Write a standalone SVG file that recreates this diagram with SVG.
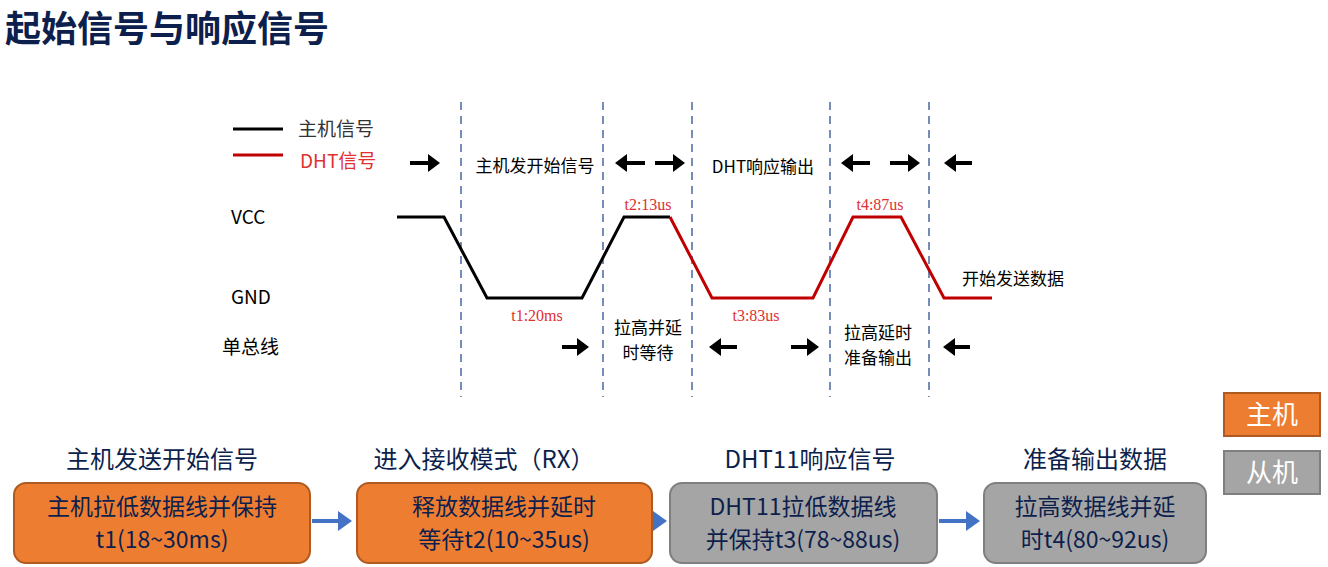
<svg xmlns="http://www.w3.org/2000/svg" width="1328" height="567" viewBox="0 0 1328 567">
<defs>
<marker id="ah" markerWidth="4" markerHeight="4.5" refX="1" refY="2.25" orient="auto" markerUnits="strokeWidth"><path d="M0,0 L3,2.25 L0,4.5 z" fill="#000"/></marker>
<marker id="bh" markerWidth="4" markerHeight="5" refX="1" refY="2.5" orient="auto" markerUnits="strokeWidth"><path d="M0,0 L3.5,2.5 L0,5 z" fill="#4472C4"/></marker>
</defs>
<style>
text{font-family:"Noto Sans CJK SC","Liberation Sans",sans-serif}
.s{font-size:17px;fill:#000}
.r{font-family:"Liberation Serif","Noto Sans CJK SC",serif;font-size:16px;fill:#e03030}
.d{stroke:#2F4F8F;stroke-width:1.3;stroke-dasharray:8,6}
.ar{stroke:#000;stroke-width:4;marker-end:url(#ah)}
.box{stroke-width:2}
.bt{font-size:23px;fill:#0d1f4d;text-anchor:middle}
.tt{font-size:24px;fill:#0d1f4d;text-anchor:middle}
</style>
<rect width="1328" height="567" fill="#fff"/>
<text x="5" y="42" font-size="36" font-weight="bold" fill="#0d1f4d">起始信号与响应信号</text>
<g id="legend">
<line x1="233" y1="129" x2="283" y2="129" stroke="#000" stroke-width="3"/>
<text x="298" y="136" font-size="19" fill="#333" font-family="Noto Sans CJK SC,sans-serif">主机信号</text>
<line x1="233" y1="155" x2="283" y2="155" stroke="#c00000" stroke-width="3"/>
<text x="300" y="168" font-size="19" fill="#e03030" font-family="Liberation Serif,Noto Sans CJK SC,serif">DHT信号</text>
</g>
<g id="axis">
<text x="231" y="224" font-size="19" fill="#000" font-family="Liberation Sans,sans-serif">VCC</text>
<text x="231" y="304" font-size="19" fill="#000" font-family="Liberation Sans,sans-serif">GND</text>
<text x="222" y="354" font-size="19" fill="#000">单总线</text>
</g>
<g id="dashes">
<line class="d" x1="461" y1="102" x2="461" y2="397"/>
<line class="d" x1="603" y1="102" x2="603" y2="397"/>
<line class="d" x1="692" y1="102" x2="692" y2="397"/>
<line class="d" x1="830" y1="102" x2="830" y2="397"/>
<line class="d" x1="929" y1="102" x2="929" y2="397"/>
</g>
<g id="wave">
<polyline points="397,217 444,217 487,298 582,298 624,217 670,217" fill="none" stroke="#000" stroke-width="3"/>
<polyline points="670,217 712,298 813,298 853,217 901,217 944,298 992,298" fill="none" stroke="#c00000" stroke-width="3"/>
</g>
<g id="connectors">
<line class="ar" x1="410" y1="163" x2="432" y2="163"/>
<line class="ar" x1="645" y1="163" x2="623" y2="163"/>
<line class="ar" x1="655" y1="163" x2="677" y2="163"/>
<line class="ar" x1="870" y1="163" x2="849" y2="163"/>
<line class="ar" x1="890" y1="163" x2="912" y2="163"/>
<line class="ar" x1="972" y1="163" x2="952" y2="163"/>
<line class="ar" x1="562" y1="347" x2="581" y2="347"/>
<line class="ar" x1="737" y1="347" x2="717" y2="347"/>
<line class="ar" x1="791" y1="347" x2="811" y2="347"/>
<line class="ar" x1="970" y1="347" x2="951" y2="347"/>
<line x1="312" y1="521" x2="342" y2="521" stroke="#4472C4" stroke-width="4" marker-end="url(#bh)"/>
<line x1="653" y1="521" x2="657" y2="521" stroke="#4472C4" stroke-width="4" marker-end="url(#bh)"/>
<line x1="939" y1="521" x2="970" y2="521" stroke="#4472C4" stroke-width="4" marker-end="url(#bh)"/>
</g>
<g id="labels">
<text class="s" x="535" y="172" text-anchor="middle">主机发开始信号</text>
<text class="s" x="763" y="173" text-anchor="middle">DHT响应输出</text>
<text class="r" x="537" y="321" text-anchor="middle">t1:20ms</text>
<text class="r" x="648" y="210" text-anchor="middle">t2:13us</text>
<text class="r" x="756" y="321" text-anchor="middle">t3:83us</text>
<text class="r" x="880" y="210" text-anchor="middle">t4:87us</text>
<text class="s" x="648" y="334" text-anchor="middle">拉高并延</text>
<text class="s" x="648" y="359" text-anchor="middle">时等待</text>
<text class="s" x="878" y="339" text-anchor="middle">拉高延时</text>
<text class="s" x="878" y="364" text-anchor="middle">准备输出</text>
<text class="s" x="962" y="285">开始发送数据</text>
</g>
<g id="step1">
<text class="tt" x="162" y="468">主机发送开始信号</text>
<rect class="box" x="14" y="483" width="296" height="80" rx="12" fill="#ED7D31" stroke="#AE5A21"/>
<text class="bt" x="162" y="515">主机拉低数据线并保持</text>
<text class="bt" x="162" y="548">t1(18~30ms)</text>
</g>
<g id="step2">
<text class="tt" x="484" y="468">进入接收模式（RX）</text>
<rect class="box" x="357" y="483" width="295" height="80" rx="12" fill="#ED7D31" stroke="#AE5A21"/>
<text class="bt" x="504" y="515">释放数据线并延时</text>
<text class="bt" x="504" y="548">等待t2(10~35us)</text>
</g>
<g id="step3">
<text class="tt" x="810" y="468">DHT11响应信号</text>
<rect class="box" x="670" y="483" width="267" height="80" rx="12" fill="#A5A5A5" stroke="#7f7f7f"/>
<text class="bt" x="803" y="515">DHT11拉低数据线</text>
<text class="bt" x="803" y="548">并保持t3(78~88us)</text>
</g>
<g id="step4">
<text class="tt" x="1095" y="468">准备输出数据</text>
<rect class="box" x="984" y="483" width="222" height="80" rx="12" fill="#A5A5A5" stroke="#7f7f7f"/>
<text class="bt" x="1095" y="515">拉高数据线并延</text>
<text class="bt" x="1095" y="548">时t4(80~92us)</text>
</g>
<g id="key">
<rect x="1224" y="393" width="96" height="43" fill="#ED7D31" stroke="#AE5A21" stroke-width="2"/>
<text x="1272" y="424" font-size="26" fill="#fff" text-anchor="middle">主机</text>
<rect x="1224" y="451" width="96" height="43" fill="#A5A5A5" stroke="#7f7f7f" stroke-width="2"/>
<text x="1272" y="482" font-size="26" fill="#fff" text-anchor="middle">从机</text>
</g>
</svg>
